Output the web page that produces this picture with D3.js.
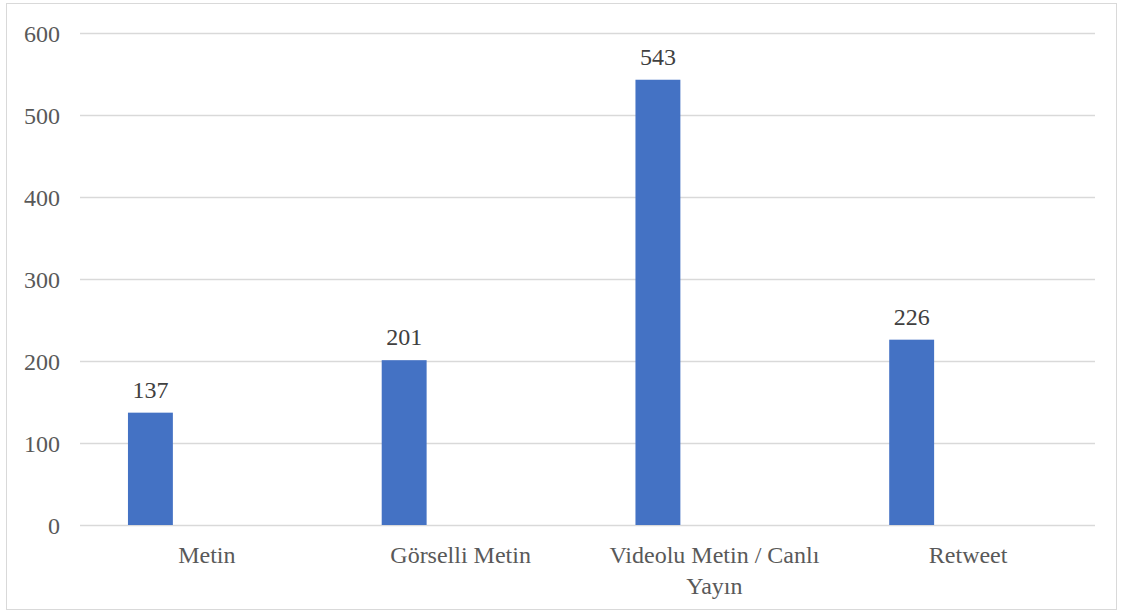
<!DOCTYPE html>
<html lang="tr">
<head>
  <meta charset="UTF-8">
  <title>Paylaşım Türleri</title>
  <script src="https://d3js.org/d3.v7.min.js"></script>
  <style>
    body {
      margin: 0;
      background: #ffffff;
    }
    svg {
      display: block;
      font-family: "Liberation Serif", "Times New Roman", serif;
    }
    .tick-label {
      font-size: 24px;
      fill: #595959;
    }
    .value-label {
      font-size: 24px;
      fill: #404040;
    }
  </style>
</head>
<body>
  <svg id="chart" width="1123" height="612"></svg>

  <script>
    // data
    const categories = ["Metin", "Görselli Metin", "Videolu Metin / Canlı Yayın", "Retweet"];
    const categoryLines = [["Metin"], ["Görselli Metin"], ["Videolu Metin / Canlı", "Yayın"], ["Retweet"]];
    const values = [137, 201, 543, 226];
    const yTicks = [0, 100, 200, 300, 400, 500, 600];

    const margin = { top: 33, right: 28, bottom: 87, left: 80 };
    const W = 1123, H = 612;
    const width = W - margin.left - margin.right;
    const height = H - margin.top - margin.bottom;

    const root = d3.select("#chart");

    // outer chart border
    root.append("rect")
      .attr("x", 6.5)
      .attr("y", 3.5)
      .attr("width", 1110)
      .attr("height", 606)
      .attr("fill", "none")
      .attr("stroke", "#d9d9d9")
      .attr("stroke-width", 1);

    const svg = root.append("g")
      .attr("transform", `translate(${margin.left},${margin.top})`);

    const x = d3.scaleBand()
      .domain(categories)
      .range([0, width])
      .padding(0);

    const y = d3.scaleLinear()
      .domain([0, 600])
      .range([height, 0]);

    // gridlines
    svg.selectAll(".grid")
      .data(yTicks)
      .enter()
      .append("line")
      .attr("x1", 0)
      .attr("x2", width)
      .attr("y1", d => Math.round(y(d)) + 0.5)
      .attr("y2", d => Math.round(y(d)) + 0.5)
      .attr("stroke", "#d9d9d9")
      .attr("stroke-width", 1.3);

    // y tick labels
    svg.selectAll(".ytick")
      .data(yTicks)
      .enter()
      .append("text")
      .attr("class", "tick-label")
      .attr("x", -20)
      .attr("y", d => y(d) + 9)
      .attr("text-anchor", "end")
      .text(d => d);

    // bars sit in the left part of each category slot
    const barOffset = 0.189, barWidth = 0.177;

    svg.selectAll(".bar")
      .data(values)
      .enter()
      .append("rect")
      .attr("x", (d, i) => x(categories[i]) + x.bandwidth() * barOffset)
      .attr("y", d => y(d))
      .attr("width", x.bandwidth() * barWidth)
      .attr("height", d => y(0) - y(d))
      .attr("fill", "#4472c4");

    // value labels
    svg.selectAll(".value-label")
      .data(values)
      .enter()
      .append("text")
      .attr("class", "value-label")
      .attr("x", (d, i) => x(categories[i]) + x.bandwidth() * (barOffset + barWidth / 2))
      .attr("y", d => y(d) - 15)
      .attr("text-anchor", "middle")
      .text(d => d);

    // category labels
    const cat = svg.selectAll(".cat")
      .data(categories)
      .enter()
      .append("text")
      .attr("class", "tick-label")
      .attr("text-anchor", "middle")
      .attr("x", d => x(d) + x.bandwidth() / 2)
      .attr("y", height + 38);

    cat.selectAll("tspan")
      .data((d, i) => categoryLines[i])
      .enter()
      .append("tspan")
      .attr("x", function() { return this.parentNode.getAttribute("x"); })
      .attr("dy", (d, j) => j === 0 ? 0 : 31)
      .text(d => d);
  </script>
</body>
</html>
